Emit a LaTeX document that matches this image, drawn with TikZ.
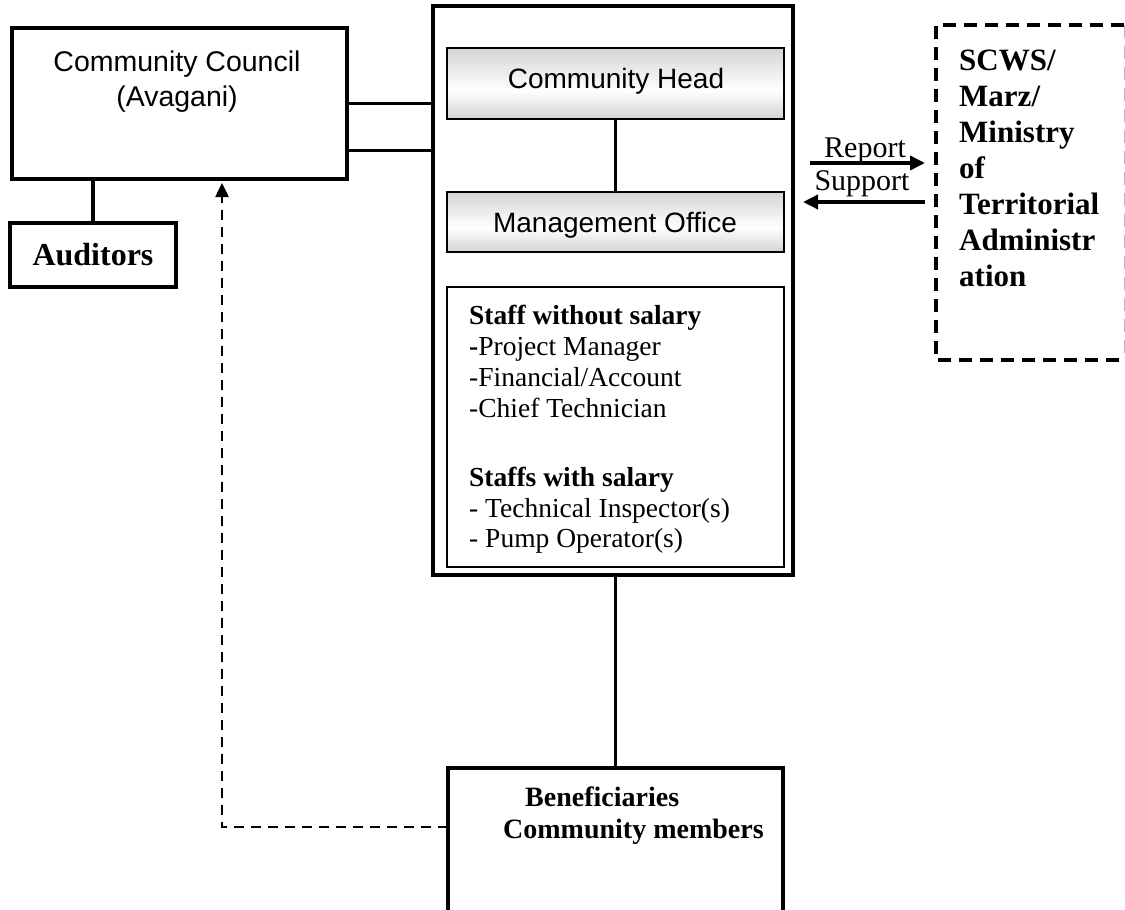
\documentclass[tikz,border=0pt]{standalone}
\usepackage{fontspec}
\setmainfont{Liberation Serif}
\newfontfamily\sansf{Liberation Sans}
\usetikzlibrary{arrows.meta,calc}
\begin{document}
\begin{tikzpicture}[x=1pt,y=-1pt,
  box/.style={draw,line width=3.5pt,inner sep=0pt,outer sep=0pt},
  graybox/.style={inner sep=0pt,outer sep=0pt,
    path picture={
      \foreach \k in {0,...,47}{
        \pgfmathsetmacro{\fa}{\k/48}
        \pgfmathsetmacro{\fb}{(\k+1.3)/48}
        \pgfmathsetmacro{\fm}{(\k+0.5)/48}
        \pgfmathsetmacro{\g}{\fm<0.6 ? 17*(1-\fm/0.6) : 17*(\fm-0.6)/0.4}
        \fill[black!\g] ($(path picture bounding box.north west)!\fa!(path picture bounding box.south west)$) rectangle ($(path picture bounding box.north east)!\fb!(path picture bounding box.south east)$);
      }}},
  grayedge/.style={draw,line width=2.5pt},
  thinbox/.style={draw,line width=1.8pt,inner sep=0pt,outer sep=0pt},
  plain/.style={inner sep=0pt,outer sep=0pt},
  conn/.style={line width=3.5pt},
  dashc/.style={line width=2.5pt,dash pattern=on 10pt off 7pt},
  dashbox/.style={line width=3.5pt,dash pattern=on 13pt off 8pt},
  arr/.style={line width=3.5pt,-{Triangle[length=15pt,width=14pt]}},
  txt/.style={inner sep=0pt,anchor=base},
  ltxt/.style={inner sep=0pt,anchor=base west},
  sanstxt/.style={txt,font=\sansf\fontsize{28.5}{34}\selectfont},
  stafftxt/.style={ltxt,font=\fontsize{27.5}{30}\selectfont},
  scwstxt/.style={ltxt,font=\fontsize{31}{36}\selectfont\bfseries}
]
\useasboundingbox (0,0) rectangle (1125,910);

% boxes
\node[box, minimum width=335pt, minimum height=151pt] (council) at (179.5,103.5) {};
\node[box, minimum width=166pt, minimum height=64pt] (auditors) at (93,255) {};
\node[box, minimum width=360pt, minimum height=569pt] (main) at (613,290.5) {};
\node[graybox, minimum width=337pt, minimum height=71pt] (head) at (615.5,83.5) {};
\node[graybox, minimum width=337pt, minimum height=60pt] (mgmt) at (615.5,222) {};
\draw[grayedge] (head.north west) rectangle (head.south east);
\draw[grayedge] (mgmt.north west) rectangle (mgmt.south east);
\node[thinbox, minimum width=337pt, minimum height=280pt] (staff) at (615.5,427) {};
\node[plain, minimum width=188pt, minimum height=335pt] (scws) at (1030,192.5) {};
\node[plain, minimum width=335pt, minimum height=144pt] (benef) at (615.5,840) {};

% open / dashed box outlines
\draw[dashbox] (scws.north east) -- (scws.north west) -- (scws.south west) -- (scws.south east);
\draw[gray!55, line width=1pt, dash pattern=on 13pt off 8pt] (scws.north east) -- (scws.south east);
\draw[conn] (benef.south west) -- (benef.north west) -- (benef.north east) -- (benef.south east);

% connectors
\draw[conn] (council.east) -- (council.east -| main.west);
\draw[conn] ([yshift=-47pt]council.east) -- ([yshift=-47pt]council.east -| main.west);
\draw[conn] (auditors.north) -- (auditors.north |- council.south);
\draw[conn] (head.south) -- (mgmt.north);
\draw[conn] (benef.north) -- (benef.north |- main.south);
\coordinate (dc) at (222,827);
\draw[dashc,-{Triangle[length=14pt,width=13pt]},shorten >=4pt] (benef.west |- dc) -- (dc) -- (dc |- council.south);
\draw[arr, shorten <=17pt, shorten >=11pt] (main.east |- 0,163) -- (scws.west |- 0,163);
\draw[arr, shorten <=11pt, shorten >=10pt] (scws.west |- 0,202) -- (main.east |- 0,202);

% texts
\node[sanstxt] (t1) at (177,71) {Community Council};
\node[sanstxt] (t2) at (177,106) {(Avagani)};
\node[txt,font=\fontsize{32}{36}\selectfont\bfseries] (t3) at (93,265) {Auditors};
\node[sanstxt,font=\sansf\fontsize{28}{34}\selectfont] (t4) at (616,88) {Community Head};
\node[sanstxt,font=\sansf\fontsize{28}{34}\selectfont] (t5) at (615,232) {Management Office};

\node[stafftxt] (s1) at (469,324) {\textbf{Staff without salary}};
\node[stafftxt] (s2) at (469,355) {\textbf{-}Project Manager};
\node[stafftxt] (s3) at (469,386) {-Financial/Account};
\node[stafftxt] (s4) at (469,417) {-Chief Technician};
\node[stafftxt] (s5) at (469,486) {\textbf{Staffs with salary}};
\node[stafftxt] (s6) at (469,517) {- Technical Inspector(s)};
\node[stafftxt] (s7) at (469,547) {- Pump Operator(s)};

\node[scwstxt] (w1) at (959,70) {SCWS/};
\node[scwstxt] (w2) at (959,106) {Marz/};
\node[scwstxt] (w3) at (959,142) {Ministry};
\node[scwstxt] (w4) at (959,178) {of};
\node[scwstxt] (w5) at (959,214) {Territorial};
\node[scwstxt] (w6) at (959,250) {Administr};
\node[scwstxt] (w7) at (959,286) {ation};

\node[txt,font=\fontsize{30}{34}\selectfont] (r1) at (865,157) {Report};
\node[txt,font=\fontsize{30}{34}\selectfont] (r2) at (862,190) {Support};

\node[ltxt,font=\fontsize{28}{32}\selectfont\bfseries] (b1) at (525,806) {Beneficiaries};
\node[ltxt,font=\fontsize{28}{32}\selectfont\bfseries] (b2) at (503,838) {Community members};
\end{tikzpicture}
\end{document}
